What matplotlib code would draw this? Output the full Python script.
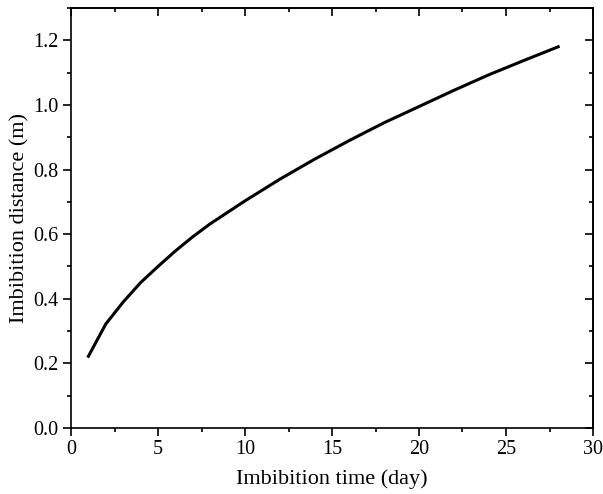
import matplotlib
matplotlib.use('Agg')
import matplotlib.pyplot as plt
from matplotlib.ticker import MultipleLocator

plt.rcParams['font.family'] = 'Liberation Serif'
plt.rcParams['font.size'] = 14.5

# imbibition time (day) and distance (m)
days = [1, 2, 3, 4, 5, 6, 7, 8, 10, 12, 14, 16, 18, 20, 22, 24, 26, 28]
distance = [0.222, 0.322, 0.390, 0.450, 0.500, 0.548, 0.592, 0.632, 0.703,
            0.770, 0.832, 0.890, 0.945, 0.995, 1.045, 1.093, 1.137, 1.180]

fig = plt.figure(figsize=(6.03, 4.94), dpi=100)
ax = fig.add_axes([71/603, 1 - 428/494, 522/603, 420/494])

ax.plot(days, distance, color='black', lw=2.2)

ax.set_xlim(0, 30)
ax.set_ylim(0, 1.3)
ax.xaxis.set_major_locator(MultipleLocator(5))
ax.xaxis.set_minor_locator(MultipleLocator(2.5))
ax.yaxis.set_major_locator(MultipleLocator(0.2))
ax.yaxis.set_minor_locator(MultipleLocator(0.1))
ax.yaxis.set_major_formatter(lambda v, p: f'{v:.1f}')
ax.tick_params(which='major', direction='out', length=5.5, width=1.2)
ax.tick_params(which='minor', direction='out', length=3, width=1.2)

# mirrored ticks pointing inward on top/right
top = ax.secondary_xaxis('top')
right = ax.secondary_yaxis('right')
for sec in (top, right):
    sec.tick_params(which='major', direction='in', length=5.5, width=1.2)
    sec.tick_params(which='minor', direction='in', length=3, width=1.2)
    sec.spines[:].set_linewidth(1.2)
top.xaxis.set_major_locator(MultipleLocator(5))
top.xaxis.set_minor_locator(MultipleLocator(2.5))
top.set_xticklabels([])
right.yaxis.set_major_locator(MultipleLocator(0.2))
right.yaxis.set_minor_locator(MultipleLocator(0.1))
right.set_yticklabels([])

for s in ax.spines.values():
    s.set_linewidth(1.2)

ax.set_xlabel('Imbibition time (day)', fontsize=16, labelpad=7)
ax.set_ylabel('Imbibition distance (m)', fontsize=16, labelpad=2.5)

fig.savefig('out.png', dpi=100)
